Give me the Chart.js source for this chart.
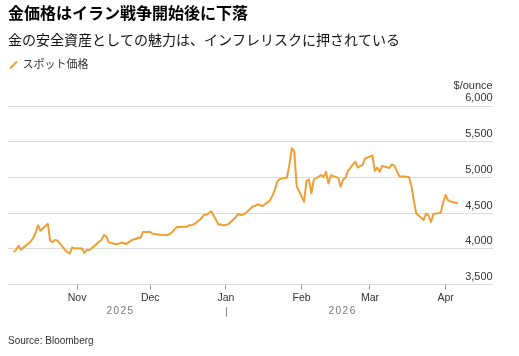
<!DOCTYPE html>
<html><head><meta charset="utf-8">
<script src="https://cdn.jsdelivr.net/npm/chart.js@4"></script>
<style>html,body{margin:0;padding:0;background:#fff;overflow:hidden}</style>
</head><body>
<canvas id="c" width="519" height="356"></canvas>
<script>
const titleText = '金価格はイラン戦争開始後に下落';
const subtitleText = '金の安全資産としての魅力は、インフレリスクに押されている';
const seriesName = 'スポット価格';
const unitLabel = '$/ounce';
const sourceText = 'Source: Bloomberg';

const dates = [
 '2025-10-06','2025-10-07','2025-10-08','2025-10-09','2025-10-10','2025-10-13','2025-10-14','2025-10-15','2025-10-16','2025-10-17',
 '2025-10-20','2025-10-21','2025-10-22','2025-10-23','2025-10-24','2025-10-27','2025-10-28','2025-10-29','2025-10-30','2025-10-31',
 '2025-11-03','2025-11-04','2025-11-05','2025-11-06','2025-11-07','2025-11-10','2025-11-11','2025-11-12','2025-11-13','2025-11-14',
 '2025-11-17','2025-11-18','2025-11-19','2025-11-20','2025-11-21','2025-11-24','2025-11-25','2025-11-26','2025-11-27','2025-11-28',
 '2025-12-01','2025-12-02','2025-12-03','2025-12-04','2025-12-05','2025-12-08','2025-12-09','2025-12-10','2025-12-11','2025-12-12',
 '2025-12-15','2025-12-16','2025-12-17','2025-12-18','2025-12-19','2025-12-22','2025-12-23','2025-12-24','2025-12-26','2025-12-29',
 '2025-12-30','2025-12-31','2026-01-02','2026-01-05','2026-01-06','2026-01-07','2026-01-08','2026-01-09','2026-01-12','2026-01-13',
 '2026-01-14','2026-01-15','2026-01-16','2026-01-19','2026-01-20','2026-01-21','2026-01-22','2026-01-23','2026-01-26','2026-01-27',
 '2026-01-28','2026-01-29','2026-01-30','2026-02-02','2026-02-03','2026-02-04','2026-02-05','2026-02-06','2026-02-09','2026-02-10',
 '2026-02-11','2026-02-12','2026-02-13','2026-02-16','2026-02-17','2026-02-18','2026-02-19','2026-02-20','2026-02-23','2026-02-24',
 '2026-02-25','2026-02-26','2026-02-27','2026-03-02','2026-03-03','2026-03-04','2026-03-05','2026-03-06','2026-03-09','2026-03-10',
 '2026-03-11','2026-03-12','2026-03-13','2026-03-16','2026-03-17','2026-03-18','2026-03-19','2026-03-20','2026-03-23','2026-03-24',
 '2026-03-25','2026-03-26','2026-03-27','2026-03-30','2026-03-31','2026-04-01','2026-04-02','2026-04-03','2026-04-06'
];
const prices = [
 3958,3986,4046,3991,4019,4105,4150,4225,4329,4255,
 4352,4116,4097,4125,4116,3990,3958,3935,4023,4009,
 4005,3944,3986,3986,4009,4102,4125,4194,4176,4093,
 4065,4074,4088,4083,4069,4134,4139,4157,4157,4236,
 4236,4213,4208,4204,4199,4194,4208,4236,4278,4306,
 4310,4310,4333,4333,4347,4431,4477,4477,4528,4338,
 4343,4329,4347,4444,4491,4472,4482,4500,4593,4602,
 4625,4611,4602,4676,4741,4824,4940,4977,5000,5180,
 5410,5360,4880,4662,4954,4972,4778,4972,5032,5009,
 5079,4917,5032,4995,4870,4972,4995,5093,5222,5139,
 5158,5176,5264,5310,5093,5139,5079,5162,5134,5185,
 5167,5093,5019,5010,5008,4882,4672,4495,4406,4495,
 4470,4374,4490,4505,4650,4755,4680,4665,4640
];
const monthTickDates = ['2025-11-01','2025-12-01','2026-01-01','2026-02-01','2026-03-01','2026-04-01'];
const monthTickLabels = ['Nov','Dec','Jan','Feb','Mar','Apr'];
const yearLabels = ['2025','2026'];
const yearSplitDate = '2026-01-01';
const yTicks = [3500,4000,4500,5000,5500,6000];

const FONT = "'Liberation Sans', 'Noto Sans CJK JP', sans-serif";
const ORANGE = '#EE9E33';
const DAY0 = Date.UTC(2026,0,1);
const toDay = s => (Date.parse(s + 'T00:00:00Z') - DAY0) / 86400000;

const extras = {
  id: 'extras',
  afterDraw(chart) {
    const {ctx, chartArea, scales: {x, y}} = chart;
    ctx.save();
    ctx.font = '11px ' + FONT;
    ctx.fillStyle = '#333';
    ctx.textAlign = 'right';
    ctx.textBaseline = 'middle';
    ctx.fillText(unitLabel, chartArea.right, y.getPixelForValue(yTicks[yTicks.length - 1]) - 20);

    const first = toDay(dates[0]);
    const last = toDay(dates[dates.length - 1]);
    const split = toDay(yearSplitDate);
    ctx.font = '10px ' + FONT;
    ctx.fillStyle = '#777';
    ctx.textAlign = 'center';
    ctx.letterSpacing = '1.5px';
    ctx.fillText(yearLabels[0], x.getPixelForValue((first + split) / 2) + 0.75, chartArea.bottom + 27);
    ctx.fillText(yearLabels[1], x.getPixelForValue((split + last) / 2) + 0.75, chartArea.bottom + 27);
    ctx.letterSpacing = '0px';

    const sx = Math.round(x.getPixelForValue(split)) + 0.5;
    ctx.strokeStyle = '#888';
    ctx.lineWidth = 1;
    ctx.beginPath();
    ctx.moveTo(sx, chartArea.bottom + 22.5);
    ctx.lineTo(sx, chartArea.bottom + 32);
    ctx.stroke();

    ctx.font = '10px ' + FONT;
    ctx.fillStyle = '#333';
    ctx.textAlign = 'left';
    ctx.fillText(sourceText, chartArea.left, chart.height - 15);
    ctx.restore();
  }
};

new Chart(document.getElementById('c'), {
  type: 'line',
  data: {
    datasets: [{
      label: seriesName,
      data: dates.map((d, i) => ({x: toDay(d), y: prices[i]})),
      borderColor: ORANGE,
      borderWidth: 2,
      pointRadius: 0,
      tension: 0,
      borderJoinStyle: 'round',
      fill: false
    }]
  },
  options: {
    responsive: false,
    animation: false,
    devicePixelRatio: 1,
    layout: {padding: {left: 8, right: 26.3, top: 5, bottom: 0}},
    plugins: {
      title: {display: true, text: titleText, align: 'start', color: '#000',
        font: {family: FONT, size: 16, weight: 'bold', lineHeight: 1.2}, padding: {top: 0, bottom: 8.4}},
      subtitle: {display: true, text: subtitleText, align: 'start', color: '#111',
        font: {family: FONT, size: 14, weight: 'normal', lineHeight: 1.2}, padding: {top: 0, bottom: 8.1}},
      legend: {display: true, align: 'start',
        labels: {usePointStyle: true, boxWidth: 7, boxHeight: 7, padding: 2, color: '#333',
          font: {family: FONT, size: 11},
          generateLabels: () => [{text: seriesName, pointStyle: 'line', rotation: -45, strokeStyle: ORANGE,
            fillStyle: ORANGE, lineWidth: 2, hidden: false, datasetIndex: 0, fontColor: '#333'}]}},
      tooltip: {enabled: false}
    },
    scales: {
      x: {
        type: 'linear', min: -89.3, max: 109.3,
        afterBuildTicks: s => { s.ticks = monthTickDates.map(d => ({value: toDay(d)})); },
        afterFit: s => { s.height = 71.3; },
        ticks: {autoSkip: false, maxRotation: 0, padding: 2, color: '#333',
          font: {family: FONT, size: 10.5}, callback: (v, i) => monthTickLabels[i]},
        grid: {drawOnChartArea: false, drawTicks: true, tickLength: 5, color: '#999'},
        border: {display: false}
      },
      y: {
        position: 'right', min: 3500, max: 6357,
        afterBuildTicks: s => { s.ticks = yTicks.map(v => ({value: v})); },
        afterFit: s => { s.width = 0; },
        ticks: {mirror: true, padding: 0, labelOffset: -7.6, color: '#333',
          font: {family: FONT, size: 11}, callback: v => v.toLocaleString('en-US')},
        grid: {drawTicks: false, color: '#dcdcdc', lineWidth: 1},
        border: {display: false}
      }
    }
  },
  plugins: [extras]
});
</script>
</body></html>
